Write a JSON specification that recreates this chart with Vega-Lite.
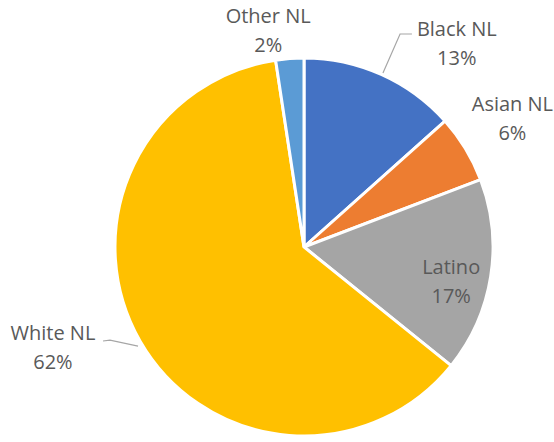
{
  "$schema": "https://vega.github.io/schema/vega-lite/v6.json",
  "width": 500,
  "height": 390,
  "autosize": {"type": "none"},
  "padding": {"left": 54, "top": 52, "right": 0, "bottom": 0},
  "background": "white",
  "config": {"view": {"stroke": null}, "text": {"font": "Open Sans", "fontSize": 20, "fill": "#595959", "lineBreak": "\n", "lineHeight": 29}},
  "datasets": {
    "pie": [
      {"cat": "Black NL", "value": 13.4, "label": "Black NL\n13%", "ord": 1},
      {"cat": "Asian NL", "value": 5.8, "label": "Asian NL\n6%", "ord": 2},
      {"cat": "Latino", "value": 16.6, "label": "Latino\n17%", "ord": 3},
      {"cat": "White NL", "value": 61.8, "label": "White NL\n62%", "ord": 4},
      {"cat": "Other NL", "value": 2.4, "label": "Other NL\n2%", "ord": 5}
    ],
    "leaders": [
      {"lead": "Black", "i": 1, "px": 0.420, "py": 0.926},
      {"lead": "Black", "i": 2, "px": 0.511, "py": 1.133},
      {"lead": "Black", "i": 3, "px": 0.574, "py": 1.133},
      {"lead": "White", "i": 1, "px": -1.069, "py": -0.500},
      {"lead": "White", "i": 2, "px": -1.032, "py": -0.495},
      {"lead": "White", "i": 3, "px": -0.883, "py": -0.527}
    ]
  },
  "layer": [
    {
      "data": {"name": "pie"},
      "mark": {"type": "arc", "outerRadius": 189, "stroke": "white", "strokeWidth": 3},
      "encoding": {
        "theta": {"field": "value", "type": "quantitative", "stack": true},
        "order": {"field": "ord", "type": "quantitative"},
        "color": {"field": "cat", "type": "nominal", "legend": null,
          "scale": {"domain": ["Black NL", "Asian NL", "Latino", "White NL", "Other NL"],
                    "range": ["#4472C4", "#ED7D31", "#A5A5A5", "#FFC000", "#5B9BD5"]}}
      }
    },
    {
      "data": {"name": "pie"},
      "mark": {"type": "text", "radius": 210, "dx": 67, "dy": -25},
      "encoding": {
        "theta": {"field": "value", "type": "quantitative", "stack": true},
        "order": {"field": "ord", "type": "quantitative"},
        "text": {"condition": {"test": "datum.cat === 'Black NL'", "field": "label"}, "value": ""}
      }
    },
    {
      "data": {"name": "pie"},
      "mark": {"type": "text", "radius": 210, "dx": 29, "dy": -33},
      "encoding": {
        "theta": {"field": "value", "type": "quantitative", "stack": true},
        "order": {"field": "ord", "type": "quantitative"},
        "text": {"condition": {"test": "datum.cat === 'Asian NL'", "field": "label"}, "value": ""}
      }
    },
    {
      "data": {"name": "pie"},
      "mark": {"type": "text", "radius": 150, "dx": -1, "dy": -2},
      "encoding": {
        "theta": {"field": "value", "type": "quantitative", "stack": true},
        "order": {"field": "ord", "type": "quantitative"},
        "text": {"condition": {"test": "datum.cat === 'Latino'", "field": "label"}, "value": ""}
      }
    },
    {
      "data": {"name": "pie"},
      "mark": {"type": "text", "radius": 210, "dx": -69, "dy": -18},
      "encoding": {
        "theta": {"field": "value", "type": "quantitative", "stack": true},
        "order": {"field": "ord", "type": "quantitative"},
        "text": {"condition": {"test": "datum.cat === 'White NL'", "field": "label"}, "value": ""}
      }
    },
    {
      "data": {"name": "pie"},
      "mark": {"type": "text", "radius": 210, "dx": -20, "dy": -21},
      "encoding": {
        "theta": {"field": "value", "type": "quantitative", "stack": true},
        "order": {"field": "ord", "type": "quantitative"},
        "text": {"condition": {"test": "datum.cat === 'Other NL'", "field": "label"}, "value": ""}
      }
    },
    {
      "data": {"name": "leaders"},
      "mark": {"type": "line", "stroke": "#A6A6A6", "strokeWidth": 1.2},
      "encoding": {
        "x": {"field": "px", "type": "quantitative", "axis": null, "scale": {"domain": [-1.3298, 1.3298], "zero": false, "nice": false}},
        "y": {"field": "py", "type": "quantitative", "axis": null, "scale": {"domain": [-1.0372, 1.0372], "zero": false, "nice": false}},
        "detail": {"field": "lead", "type": "nominal"},
        "order": {"field": "i", "type": "quantitative"}
      }
    }
  ]
}
